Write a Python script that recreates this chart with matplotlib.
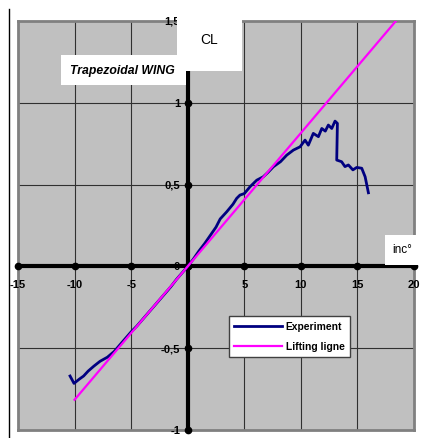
import matplotlib
matplotlib.use("Agg")
import matplotlib.pyplot as plt
from matplotlib.patches import Rectangle
from matplotlib.lines import Line2D

plt.rcParams['font.family'] = ['Liberation Sans', 'DejaVu Sans']

# Experiment curve (incidence in degrees, CL)
exp_inc = [-10.4, -10.05, -9.6, -9.2, -8.8, -8.3, -7.75, -7.1, -6.5, -6.0,
           -5.5, -5.0, -4.5, -4.0, -3.5, -3.0, -2.5, -2.0, -1.5, -1.0,
           -0.5, 0.0, 0.5, 1.0, 1.5, 2.0, 2.5, 2.87, 3.45, 4.0,
           4.33, 4.62, 5.0, 5.51, 6.1, 6.68, 7.1, 7.57, 8.2, 8.75,
           9.34, 9.93, 10.37, 10.66, 11.1, 11.55, 11.85, 12.16, 12.43, 12.73,
           13.02, 13.23, 13.17, 13.6, 13.9, 14.2, 14.6, 14.94, 15.38, 15.68, 15.97]
exp_cl = [-0.67, -0.715, -0.69, -0.67, -0.64, -0.61, -0.58, -0.555, -0.52, -0.48,
          -0.44, -0.40, -0.365, -0.325, -0.285, -0.245, -0.205, -0.165, -0.125, -0.08,
          -0.04, 0.0, 0.045, 0.095, 0.14, 0.19, 0.24, 0.29, 0.334, 0.38,
          0.416, 0.436, 0.445, 0.487, 0.527, 0.548, 0.575, 0.609, 0.64, 0.68,
          0.711, 0.731, 0.772, 0.741, 0.813, 0.793, 0.843, 0.827, 0.864, 0.843,
          0.888, 0.874, 0.65, 0.64, 0.61, 0.62, 0.59, 0.605, 0.60, 0.548, 0.45]

# Lifting line theory (straight line)
lift_inc = [-10.0, 18.4]
lift_cl = [-0.815, 1.5]

x_ticks = [-15, -10, -5, 0, 5, 10, 15, 20]
x_labels = ['-15', '-10', '-5', '', '5', '10', '15', '20']
y_ticks = [-1, -0.5, 0, 0.5, 1, 1.5]
y_labels = ['-1', '-0,5', '0', '0,5', '1', '1,5']

W, H = 438, 439
fig = plt.figure(figsize=(W / 100, H / 100), dpi=100)
ax = fig.add_axes([18 / W, 1 - 431 / H, (414 - 18) / W, (431 - 22) / H])
ax.set_facecolor('#C0C0C0')
ax.set_xlim(-15, 20)
ax.set_ylim(-1, 1.5)
ax.set_xticks(x_ticks)
ax.set_yticks(y_ticks)
ax.tick_params(length=0, labelbottom=False, labelleft=False)
ax.grid(True, color='#303030', lw=0.8)
for s in ax.spines.values():
    s.set_color('#808080')
    s.set_linewidth(2)

# thick axes through origin
ax.axhline(0, color='black', lw=3, zorder=3)
ax.axvline(0, color='black', lw=3, zorder=3)
ax.plot(x_ticks, [0] * len(x_ticks), 'o', color='black', ms=4.5, zorder=3, clip_on=False)
ax.plot([0] * len(y_ticks), y_ticks, 'o', color='black', ms=4.5, zorder=3, clip_on=False)

for x, lab in zip(x_ticks, x_labels):
    ax.annotate(lab, (x, 0), xytext=(0, -13), textcoords='offset points',
                ha='center', va='center', fontsize=8, fontweight='bold', zorder=4)
for y, lab in zip(y_ticks, y_labels):
    ax.annotate(lab, (0, y), xytext=(-5.5, 0), textcoords='offset points',
                ha='right', va='center', fontsize=8, fontweight='bold', zorder=4)

ax.plot(exp_inc, exp_cl, color='#000080', lw=2, label='Experiment', zorder=5)
ax.plot(lift_inc, lift_cl, color='#FF00FF', lw=1.6, label='Lifting ligne', zorder=6)

leg = ax.legend(loc='upper left', bbox_to_anchor=(229 / W, 1 - 317 / H),
                bbox_transform=fig.transFigure, borderaxespad=0, fancybox=False,
                framealpha=1, edgecolor='#404040', handlelength=4.7,
                handletextpad=0.3, labelspacing=1.0, borderpad=0.5,
                prop={'size': 7.4, 'weight': 'bold'})
leg.get_frame().set_linewidth(1)
leg.set_zorder(10)

# white label boxes drawn over the plot area
def white_box(x0, y0, x1, y1):
    fig.add_artist(Rectangle((x0 / W, 1 - y1 / H), (x1 - x0) / W, (y1 - y0) / H,
                             transform=fig.transFigure, facecolor='white',
                             edgecolor='none', zorder=20))

white_box(177, 0, 242, 72)
white_box(61, 56, 186, 86)
white_box(385, 236, 420, 266)

fig.text(209 / W, 1 - 40 / H, 'CL', fontsize=10, ha='center', va='center', zorder=21)
fig.text(122 / W, 1 - 71 / H, 'Trapezoidal WING', fontsize=8.8, fontweight='bold',
         fontstyle='italic', ha='center', va='center', zorder=21)
fig.text(402 / W, 1 - 250 / H, 'inc°', fontsize=8.5, ha='center', va='center', zorder=21)

fig.add_artist(Line2D([8.5 / W, 8.5 / W], [0, 1 - 10 / H], transform=fig.transFigure,
                      color='black', lw=1, zorder=21))

fig.savefig('out.png', dpi=100)
